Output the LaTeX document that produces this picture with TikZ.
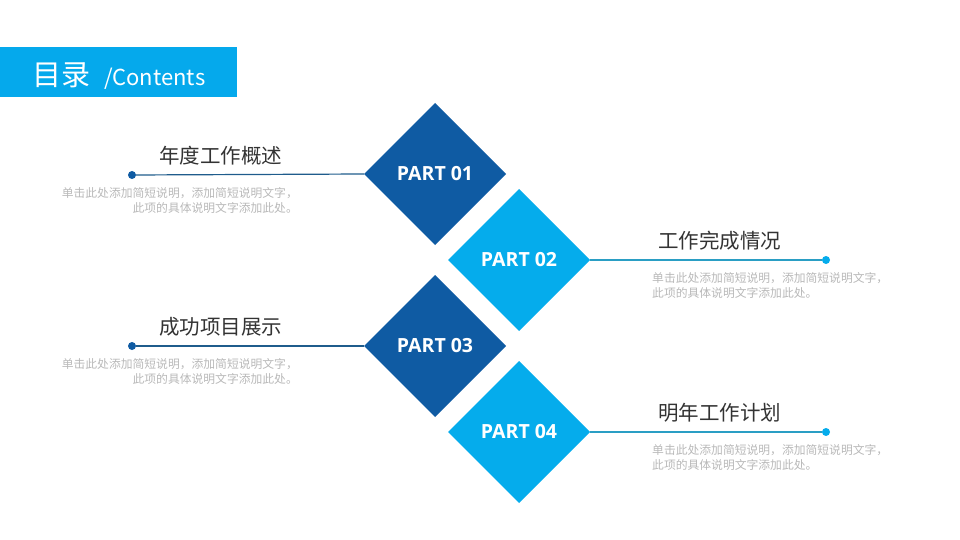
\documentclass[tikz,border=0pt]{standalone}
\usepackage{fontspec}
\setmainfont{Noto Sans CJK SC}
\newfontfamily\partfont{Open Sans}
\usetikzlibrary{shapes.geometric}
\definecolor{darkb}{HTML}{0F5BA3}
\definecolor{lightb}{HTML}{05ACEC}
\definecolor{hdr}{HTML}{05A9EC}
\definecolor{lineL}{HTML}{1F5C8C}
\definecolor{lineR}{HTML}{2A9EC4}
\definecolor{titlec}{HTML}{333333}
\definecolor{grayt}{HTML}{B8B8B8}
\tikzset{
  dia/.style={shape=diamond, minimum width=142pt, minimum height=142pt, aspect=1, inner sep=0pt, outer sep=0pt, text=white, font=\partfont\bfseries\fontsize{19.5}{21}\selectfont},
  dot/.style={circle, minimum size=8pt, inner sep=0pt, outer sep=0pt},
  ttl/.style={anchor=base, inner sep=0pt, text=titlec, font=\fontsize{20.5}{22}\selectfont},
  desc/.style={inner sep=0pt, text=grayt, font=\fontsize{11.8}{15}\selectfont},
}
\begin{document}
\begin{tikzpicture}[x=1pt,y=-1pt]
\useasboundingbox (0,0) rectangle (960,540);
% header
\fill[hdr] (0,47) rectangle (237,97);
\node[anchor=base west, inner sep=0pt, text=white, font=\fontsize{29}{30}\selectfont] (hz) at (32,86) {目录};
\node[anchor=base west, inner sep=0pt, text=white, font=\fontsize{22}{23}\selectfont] (he) at (104,86) {/Contents};
% diamonds
\node[dia, fill=darkb] (d1) at (435,174) {PART 01};
\node[dia, fill=lightb] (d2) at (519,260) {PART 02};
\node[dia, fill=darkb] (d3) at (435,346) {PART 03};
\node[dia, fill=lightb] (d4) at (519,432) {PART 04};
% dots
\node[dot, fill=darkb] (p1) at (132,175) {};
\node[dot, fill=lightb] (p2) at (826,260) {};
\node[dot, fill=darkb] (p3) at (132,346) {};
\node[dot, fill=lightb] (p4) at (826,432) {};
% lines
\draw[lineL, line width=1.2pt] (p1) -- (d1.west);
\draw[lineR, line width=1.2pt] (d2.east) -- (p2);
\draw[lineL, line width=1.2pt] (p3) -- (d3.west);
\draw[lineR, line width=1.2pt] (d4.east) -- (p4);
% titles
\node[ttl] (t1) at (220.5,163.5) {年度工作概述};
\node[ttl] (t2) at (719.5,248.5) {工作完成情况};
\node[ttl] (t3) at (220.5,334.5) {成功项目展示};
\node[ttl] (t4) at (719.5,420.5) {明年工作计划};
% descriptions
\node[desc, anchor=base east] (a1) at (298,197) {单击此处添加简短说明，添加简短说明文字，};
\node[desc, anchor=base east] (b1) at (298,212) {此项的具体说明文字添加此处。};
\node[desc, anchor=base west] (a2) at (652,282) {单击此处添加简短说明，添加简短说明文字，};
\node[desc, anchor=base west] (b2) at (652,297) {此项的具体说明文字添加此处。};
\node[desc, anchor=base east] (a3) at (298,368) {单击此处添加简短说明，添加简短说明文字，};
\node[desc, anchor=base east] (b3) at (298,383) {此项的具体说明文字添加此处。};
\node[desc, anchor=base west] (a4) at (652,454) {单击此处添加简短说明，添加简短说明文字，};
\node[desc, anchor=base west] (b4) at (652,469) {此项的具体说明文字添加此处。};
\end{tikzpicture}
\end{document}
